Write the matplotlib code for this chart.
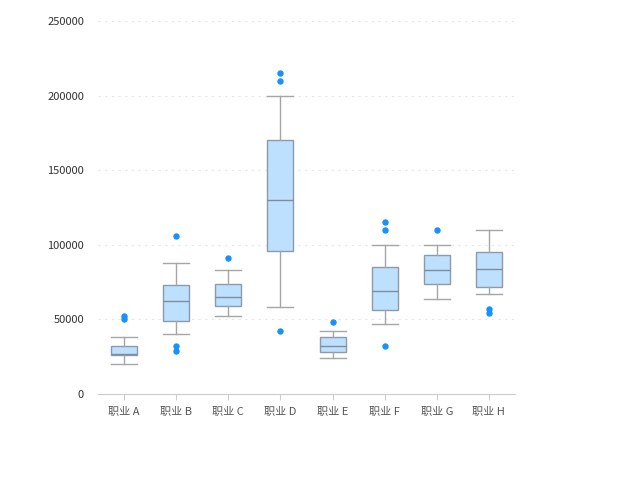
import matplotlib
matplotlib.use("Agg")
import matplotlib.pyplot as plt

plt.rcParams['font.family'] = ['Noto Sans CJK SC', 'DejaVu Sans']

categories = ["职业 A", "职业 B", "职业 C", "职业 D", "职业 E", "职业 F", "职业 G", "职业 H"]
whislo = [20000, 40000, 52000, 58000, 24000, 47000, 64000, 67000]
q1 = [26000, 49000, 59000, 96000, 28000, 56000, 74000, 72000]
med = [27000, 62000, 65000, 130000, 32000, 69000, 83000, 84000]
q3 = [32000, 73000, 74000, 170000, 38000, 85000, 93000, 95000]
whishi = [38000, 88000, 83000, 200000, 42000, 100000, 100000, 110000]
outliers = [
    [50000, 52000],
    [106000, 32000, 29000],
    [91000],
    [215000, 210000, 42000],
    [48000],
    [115000, 110000, 32000],
    [110000],
    [57000, 54000],
]
yticks = [0, 50000, 100000, 150000, 200000, 250000]

fig = plt.figure(figsize=(6.18, 4.8), dpi=100)
ax = fig.add_axes([98/618, (480-394)/480, (515-98)/618, (394-21)/480])

stats = []
for i, c in enumerate(categories):
    stats.append(dict(label=c, whislo=whislo[i], q1=q1[i], med=med[i],
                      q3=q3[i], whishi=whishi[i], fliers=outliers[i]))

edge = '#8c9aab'
ax.bxp(stats, positions=range(len(categories)), widths=0.5, capwidths=0.5,
       patch_artist=True,
       boxprops=dict(facecolor='#bde0ff', edgecolor=edge, linewidth=1),
       medianprops=dict(color='#7f8c9b', linewidth=1),
       whiskerprops=dict(color='#a6a6a6', linewidth=1),
       capprops=dict(color='#a6a6a6', linewidth=1),
       flierprops=dict(marker='o', markersize=3.6, markerfacecolor='#1890ff',
                       markeredgecolor='#1890ff'))

ax.set_xlim(-0.5, len(categories) - 0.5)
ax.set_ylim(0, 250000)
ax.set_yticks(yticks)
ax.set_yticklabels([str(v) for v in yticks])
ax.yaxis.grid(True, linestyle=(0, (2, 4)), color='#e6e6e6', linewidth=0.8)
ax.set_axisbelow(True)
for s in ['left', 'right', 'top']:
    ax.spines[s].set_visible(False)
ax.spines['bottom'].set_color('#cccccc')
ax.tick_params(axis='y', length=0, pad=10, labelsize=8, labelcolor='#333333')
ax.tick_params(axis='x', length=4, color='#cccccc', pad=5, labelsize=8, labelcolor='#555555')

fig.savefig('out.png', dpi=100)
